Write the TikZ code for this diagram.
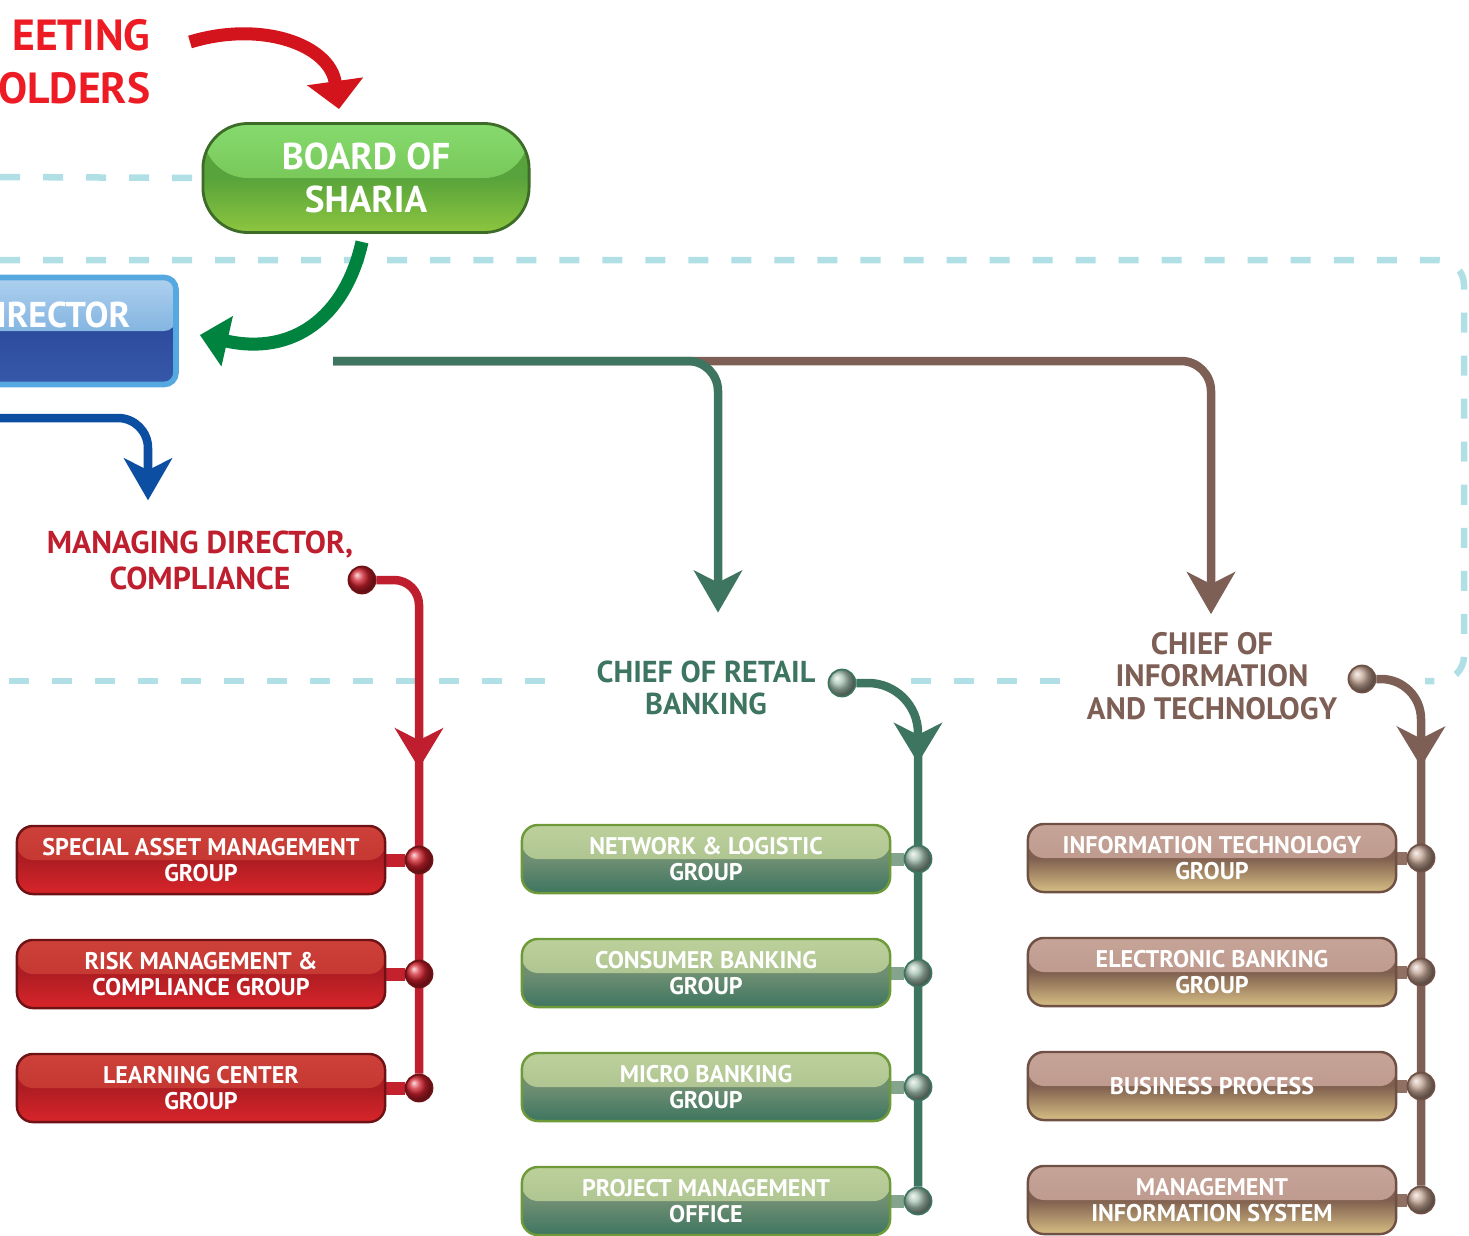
\documentclass[tikz,border=0pt]{standalone}
\usepackage{fontspec}
\setmainfont{PT Sans}
\usetikzlibrary{shapes,arrows.meta,positioning,calc,backgrounds,decorations.markings}

% text and line colours
\definecolor{meetred}{HTML}{ED1C24}
\definecolor{arrowred}{HTML}{D3141C}
\definecolor{arrowgreen}{HTML}{00833E}
\definecolor{mdred}{HTML}{BE1E2D}
\definecolor{retailgreen}{HTML}{3E7560}
\definecolor{itbrown}{HTML}{7D5F55}
\definecolor{dirblue}{HTML}{0B4EA2}
\definecolor{dashblue}{HTML}{B0E0E6}
\definecolor{redstub}{HTML}{C4212F}
\definecolor{greenstub}{HTML}{84A48D}
\definecolor{brownstub}{HTML}{8F7062}
% box colours
\definecolor{redbord}{HTML}{6E1216}
\definecolor{redglosstop}{HTML}{CC4139}
\definecolor{redglossbot}{HTML}{C0302D}
\definecolor{redmid}{HTML}{AE1D23}
\definecolor{redbot}{HTML}{D8252A}
\definecolor{greenbord}{HTML}{6E9A3A}
\definecolor{greenglosstop}{HTML}{BCD09B}
\definecolor{greenglossbot}{HTML}{A3BB88}
\definecolor{greenmid}{HTML}{6F8F73}
\definecolor{greenbot}{HTML}{3E7560}
\definecolor{brownbord}{HTML}{6E5044}
\definecolor{brownglosstop}{HTML}{C7A498}
\definecolor{brownglossbot}{HTML}{B69285}
\definecolor{brownmid}{HTML}{7F5F4E}
\definecolor{brownbot}{HTML}{D6BE84}
\definecolor{boardbord}{HTML}{3D6B28}
\definecolor{boardglosstop}{HTML}{86DB6E}
\definecolor{boardglossbot}{HTML}{6BB546}
\definecolor{boardmid}{HTML}{58A33B}
\definecolor{boardbot}{HTML}{8DC63F}
\definecolor{dirbord}{HTML}{55A8E0}
\definecolor{dirglosstop}{HTML}{AED0EE}
\definecolor{dirglossbot}{HTML}{5A9AD5}
\definecolor{dirmid}{HTML}{2E4C9E}
\definecolor{dirbot}{HTML}{3658A9}
\definecolor{ballred}{HTML}{D0202C}
\definecolor{ballgreen}{HTML}{A6C2B2}
\definecolor{ballbrown}{HTML}{C4A595}

\begin{document}
\begin{tikzpicture}[
    x=0.01cm, y=-0.01cm,
    every node/.style={font=\bfseries},
    gloss/.style 2 args={path picture={\shade[top color=#1, bottom color=#2] (path picture bounding box.north west) rectangle (path picture bounding box.east);}},
    groupbox/.style={rectangle, rounded corners=0.16cm, line width=0.7pt, minimum width=3.68cm, minimum height=0.68cm, align=center, text=white, font=\bfseries\fontsize{6.85}{7.2}\selectfont},
    redbox/.style={groupbox, draw=redbord, top color=redmid, bottom color=redbot, middle color=redmid, gloss={redglosstop}{redglossbot}},
    greenbox/.style={groupbox, draw=greenbord, top color=greenmid, bottom color=greenbot, middle color=greenmid, gloss={greenglosstop}{greenglossbot}},
    brownbox/.style={groupbox, draw=brownbord, top color=brownmid, bottom color=brownbot, middle color=brownmid, gloss={brownglosstop}{brownglossbot}},
    boardbox/.style={rectangle, rounded corners=0.45cm, draw=boardbord, line width=0.8pt, minimum width=3.26cm, minimum height=1.09cm, align=center, text=white, font=\bfseries\fontsize{10.6}{12.2}\selectfont, top color=boardmid, bottom color=boardbot, middle color=boardmid, gloss={boardglosstop}{boardglossbot}},
    dirbox/.style={rectangle, rounded corners=0.12cm, draw=dirbord, line width=1.6pt, minimum width=2.06cm, minimum height=1.07cm, top color=dirmid, bottom color=dirbot, middle color=dirmid, gloss={dirglosstop}{dirglossbot}},
    dirtext/.style={text=white, font=\bfseries\fontsize{10.2}{12}\selectfont, inner sep=0pt},
    meettext/.style={text=meetred, align=right, inner sep=0pt, font=\bfseries\fontsize{12.4}{15}\selectfont},
    headtext/.style={align=center, inner sep=1pt, font=\bfseries\fontsize{8.6}{9.2}\selectfont},
    ballnode/.style={circle, minimum size=0.27cm, inner sep=0pt, line width=0.5pt},
    redball/.style={ballnode, draw=redbord, ball color=ballred},
    greenball/.style={ballnode, draw=greenbot, ball color=ballgreen},
    brownball/.style={ballnode, draw=brownbord, ball color=ballbrown},
    dashline/.style={draw=dashblue, line width=0.065cm, dash pattern=on 0.2cm off 0.23cm},
    trunk/.style={line width=0.085cm},
    stub/.style={line width=0.13cm},
    bigtip/.style={-{Stealth[width=0.48cm, length=0.42cm, inset=0.12cm]}},
    midarrow/.style={postaction={decorate}, decoration={markings, mark=at position #1 with {\arrow{Stealth[width=0.48cm, length=0.4cm, inset=0.12cm]}}}},
    meetarrow/.style={draw=arrowred, line width=0.13cm, -{Triangle[width=0.55cm, length=0.28cm]}},
    shariaarrow/.style={draw=arrowgreen, line width=0.13cm, -{Triangle[width=0.5cm, length=0.28cm]}}
]
\useasboundingbox (0,0) rectangle (1469,1236);

% Top - meeting, sharia board, director
\node[meettext, anchor=east] (meeting) at (151,62) {EETING\\OLDERS};
\node[boardbox] (board) at (366,178) {BOARD OF\\SHARIA};
\node[dirbox] (director) at (73,331) {};
\node[dirtext, anchor=east] (dirlabel) at (131,315) {IRECTOR};

% Heads of the three branches
\node[headtext, text=mdred, font=\bfseries\fontsize{9}{10.2}\selectfont] (mdtext) at (200,560) {MANAGING DIRECTOR,\\COMPLIANCE};
\node[headtext, text=retailgreen] (retail) at (706,688) {CHIEF OF RETAIL\\BANKING};
\node[headtext, text=itbrown, font=\bfseries\fontsize{8.8}{9.2}\selectfont] (cio) at (1212,676) {CHIEF OF\\INFORMATION\\AND TECHNOLOGY};
\node[redball] (mdball) at (362,580) {};
\node[greenball] (retailball) at (842,683) {};
\node[brownball] (cioball) at (1362,679) {};

% Compliance groups
\node[redbox] (sam) at (201,860) {SPECIAL ASSET MANAGEMENT\\GROUP};
\node[redbox] (risk) at (201,974) {RISK MANAGEMENT \&\\COMPLIANCE GROUP};
\node[redbox] (learn) at (201,1088) {LEARNING CENTER\\GROUP};
\node[redball] (rball1) at (419,860) {};
\node[redball] (rball2) at (419,974) {};
\node[redball] (rball3) at (419,1088) {};

% Retail banking groups
\node[greenbox] (network) at (706,859) {NETWORK \& LOGISTIC\\GROUP};
\node[greenbox] (consumer) at (706,973) {CONSUMER BANKING\\GROUP};
\node[greenbox] (micro) at (706,1087) {MICRO BANKING\\GROUP};
\node[greenbox] (pmo) at (706,1201) {PROJECT MANAGEMENT\\OFFICE};
\node[greenball] (gball1) at (918,859) {};
\node[greenball] (gball2) at (918,973) {};
\node[greenball] (gball3) at (918,1087) {};
\node[greenball] (gball4) at (918,1201) {};

% IT groups
\node[brownbox] (itgroup) at (1212,858) {INFORMATION TECHNOLOGY\\GROUP};
\node[brownbox] (ebank) at (1212,972) {ELECTRONIC BANKING\\GROUP};
\node[brownbox] (bproc) at (1212,1086) {BUSINESS PROCESS};
\node[brownbox] (mis) at (1212,1200) {MANAGEMENT\\INFORMATION SYSTEM};
\node[brownball] (bball1) at (1421,858) {};
\node[brownball] (bball2) at (1421,972) {};
\node[brownball] (bball3) at (1421,1086) {};
\node[brownball] (bball4) at (1421,1200) {};

\coordinate (dirout) at (333,361);
\coordinate (dirleft) at (-10,418);

\begin{scope}[on background layer]
% dashed frames
\draw[dashline] (0,177) -- (board.west);
\draw[dashline, rounded corners=0.25cm] (0,260) -- (1464,260) -- (1464,681) -- (1425,681);
\draw[dashline] (1060,681) -- (905,681);
\draw[dashline] (545,681) -- (0,681);

% arrows at the top
\draw[meetarrow] ($(meeting.east)+(39,-20)$) .. controls (262,20) and (330,45) .. ($(board.north)+(-27,-13)$);
\draw[shariaarrow] ($(board.south)+(-4,8)$) .. controls (345,318) and (292,356) .. ($(director.east)+(21,4)$);
\draw[draw=dirblue, trunk, bigtip, rounded corners=0.3cm] (dirleft) -| ($(mdtext.north)+(-52,-26)$);
\draw[draw=itbrown, trunk, bigtip, rounded corners=0.3cm] (dirout) -| ($(cio.north)+(-1,-14)$);
\draw[draw=retailgreen, trunk, bigtip, rounded corners=0.3cm] (dirout) -| ($(retail.north)+(12,-44)$);

% compliance trunk
\draw[draw=redstub, stub] (sam.east) -- (rball1);
\draw[draw=redstub, stub] (risk.east) -- (rball2);
\draw[draw=redstub, stub] (learn.east) -- (rball3);
\draw[draw=mdred, trunk, rounded corners=0.25cm, midarrow=2.2cm] (mdball) -| (rball3);

% retail trunk
\draw[draw=greenstub, stub] (network.east) -- (gball1);
\draw[draw=greenstub, stub] (consumer.east) -- (gball2);
\draw[draw=greenstub, stub] (micro.east) -- (gball3);
\draw[draw=greenstub, stub] (pmo.east) -- (gball4);
\draw[draw=retailgreen, trunk, rounded corners=0.5cm, midarrow=1.2cm] (retailball) -| (gball4);

% IT trunk
\draw[draw=brownstub, stub] (itgroup.east) -- (bball1);
\draw[draw=brownstub, stub] (ebank.east) -- (bball2);
\draw[draw=brownstub, stub] (bproc.east) -- (bball3);
\draw[draw=brownstub, stub] (mis.east) -- (bball4);
\draw[draw=itbrown, trunk, rounded corners=0.4cm, midarrow=1.15cm] (cioball) -| (bball4);
\end{scope}

\end{tikzpicture}
\end{document}
